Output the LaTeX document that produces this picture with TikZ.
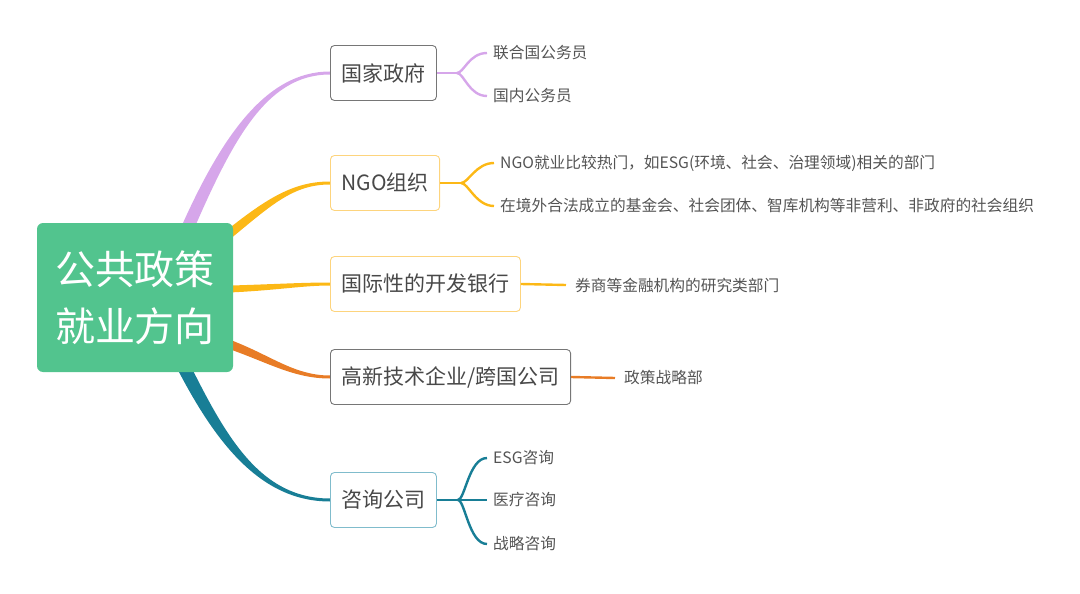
\documentclass[tikz,border=0pt]{standalone}
\usepackage{fontspec}
\setmainfont{Noto Sans CJK SC}
\usetikzlibrary{calc,backgrounds}
\definecolor{rootgreen}{RGB}{82,196,142}
\definecolor{lilac}{RGB}{214,166,234}
\definecolor{gold}{RGB}{252,184,22}
\definecolor{goldlight}{RGB}{253,212,125}
\definecolor{tangerine}{RGB}{232,124,38}
\definecolor{teal}{RGB}{24,126,150}
\definecolor{teallight}{RGB}{128,188,204}
\definecolor{boxgray}{RGB}{118,118,118}
\definecolor{boxtext}{RGB}{72,72,72}
\definecolor{leaftext}{RGB}{84,84,84}

% tapered main branch: colour, start, control 1, control 2, end, start half-width
\newcommand{\limb}[6]{%
  \fill[#1] ($(#2)+(#6)$) .. controls ($(#3)+(#6)$) and ($(#4)+(0,1.5)$) .. ($(#5)+(0,1.5)$)
    -- ($(#5)-(0,1.5)$) .. controls ($(#4)-(0,1.5)$) and ($(#3)-(#6)$) .. ($(#2)-(#6)$) -- cycle;}

\begin{document}
\begin{tikzpicture}[x=1pt,y=-1pt,
  topic/.style={draw=#1,rounded corners=4pt,line width=0.9pt,minimum height=55pt,
    inner xsep=11pt,anchor=west,text=boxtext,font=\fontsize{21}{25}\selectfont},
  leaf/.style={anchor=west,inner xsep=6pt,inner ysep=2pt,text=leaftext,
    font=\fontsize{15.7}{18}\selectfont},
  twig/.style={draw=#1,line width=2.4pt}]
\useasboundingbox (0,0) rectangle (1080,594);

% centre
\node[fill=rootgreen,rounded corners=6pt,minimum width=196pt,minimum height=149pt,
  text=white,align=center,font=\fontsize{40}{57}\selectfont] (root) at (135,297.5)
  {公共政策\\就业方向};

% topics
\node[topic=boxgray] (gov) at (330,73) {国家政府};
\node[topic=goldlight] (ngo) at (330,183) {NGO组织};
\node[topic=goldlight] (bank) at (330,284) {国际性的开发银行};
\node[topic=boxgray] (tech) at (330,377) {高新技术企业/跨国公司};
\node[topic=teallight] (cons) at (330,500) {咨询公司};

% leaves
\node[leaf] (gov1) at (487,53) {联合国公务员};
\node[leaf] (gov2) at (487,96) {国内公务员};
\node[leaf] (ngo1) at (494,163) {NGO就业比较热门，如ESG(环境、社会、治理领域)相关的部门};
\node[leaf] (ngo2) at (494,206) {在境外合法成立的基金会、社会团体、智库机构等非营利、非政府的社会组织};
\node[leaf,inner xsep=9pt] (bank1) at (566,285) {券商等金融机构的研究类部门};
\node[leaf,inner xsep=9pt] (tech1) at (615,378) {政策战略部};
\node[leaf] (cons1) at (487,458) {ESG咨询};
\node[leaf] (cons2) at (487,500) {医疗咨询};
\node[leaf] (cons3) at (487,544) {战略咨询};

% branches behind the centre
\begin{scope}[on background layer]
\coordinate (r1) at ($(root.center)+(45,-52)$);
\coordinate (r2) at ($(root.center)+(80,-52)$);
\coordinate (r3) at ($(root.center)+(80,-8)$);
\coordinate (r4) at ($(root.center)+(80,42)$);
\coordinate (r5) at ($(root.center)+(40,52)$);
\limb{lilac}{r1}{225,140}{265,73}{gov.west}{6,2}
\limb{gold}{r2}{265,205}{290,183}{ngo.west}{3,3.5}
\limb{gold}{r3}{270,288}{300,284}{bank.west}{0,3.5}
\limb{tangerine}{r4}{265,355}{290,377}{tech.west}{-1,4.5}
\limb{teal}{r5}{215,430}{255,500}{cons.west}{-6,3}
\end{scope}

% twigs
\draw[twig=lilac] (gov.east) -- ++(20,0) coordinate (govj);
\foreach \n in {gov1,gov2}
  \draw[twig=lilac] (govj) .. controls +(7,0) and +(-18,0) .. (\n.west);
\draw[twig=gold] (ngo.east) -- ++(21,0) coordinate (ngoj);
\foreach \n in {ngo1,ngo2}
  \draw[twig=gold] (ngoj) .. controls +(7,0) and +(-18,0) .. (\n.west);
\draw[twig=gold] (bank.east) -- (bank1.west);
\draw[twig=tangerine] (tech.east) -- (tech1.west);
\draw[twig=teal] (cons.east) -- ++(21,0) coordinate (consj) -- (cons2.west);
\foreach \n in {cons1,cons3}
  \draw[twig=teal] (consj) .. controls +(7,0) and +(-18,0) .. (\n.west);
\end{tikzpicture}
\end{document}
